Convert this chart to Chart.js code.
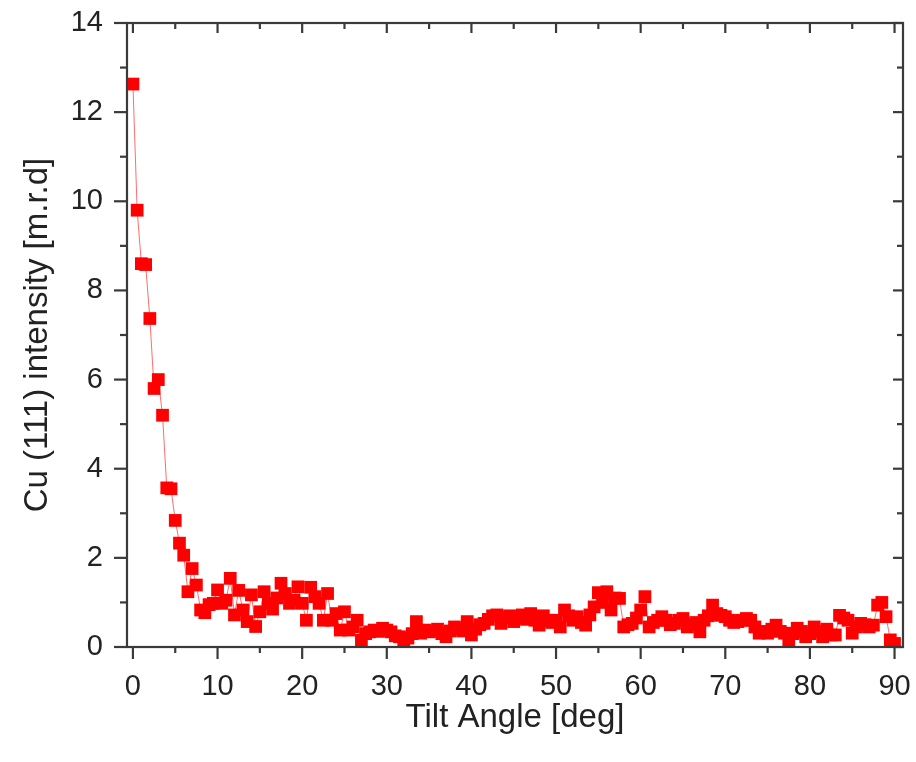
<!DOCTYPE html>
<html>
<head>
<meta charset="utf-8">
<script src="https://cdn.jsdelivr.net/npm/chart.js@4.4.1/dist/chart.umd.min.js"></script>
<style>
  html, body { margin: 0; padding: 0; background: #fff; }
  #wrap { width: 916px; height: 762px; }
</style>
</head>
<body>
<div id="wrap"><canvas id="my-chart" width="916" height="762"></canvas></div>
<script>
// tilt angles (deg) and Cu (111) intensity (m.r.d)
const tiltAngles = [
  0, 0.5, 1, 1.5, 2, 2.5, 3, 3.5, 4, 4.5, 5, 5.5, 6, 6.5, 7, 7.5, 8, 8.5, 9, 9.5,
  10, 10.5, 11, 11.5, 12, 12.5, 13, 13.5, 14, 14.5, 15, 15.5, 16, 16.5, 17, 17.5, 18, 18.5, 19, 19.5,
  20, 20.5, 21, 21.5, 22, 22.5, 23, 23.5, 24, 24.5, 25, 25.5, 26, 26.5, 27, 27.5, 28, 28.5, 29, 29.5,
  30, 30.5, 31, 31.5, 32, 32.5, 33, 33.5, 34, 34.5, 35, 35.5, 36, 36.5, 37, 37.5, 38, 38.5, 39, 39.5,
  40, 40.5, 41, 41.5, 42, 42.5, 43, 43.5, 44, 44.5, 45, 45.5, 46, 46.5, 47, 47.5, 48, 48.5, 49, 49.5,
  50, 50.5, 51, 51.5, 52, 52.5, 53, 53.5, 54, 54.5, 55, 55.5, 56, 56.5, 57, 57.5, 58, 58.5, 59, 59.5,
  60, 60.5, 61, 61.5, 62, 62.5, 63, 63.5, 64, 64.5, 65, 65.5, 66, 66.5, 67, 67.5, 68, 68.5, 69, 69.5,
  70, 70.5, 71, 71.5, 72, 72.5, 73, 73.5, 74, 74.5, 75, 75.5, 76, 76.5, 77, 77.5, 78, 78.5, 79, 79.5,
  80, 80.5, 81, 81.5, 82, 82.5, 83, 83.5, 84, 84.5, 85, 85.5, 86, 86.5, 87, 87.5, 88, 88.5, 89, 89.5,
  90
];
const cuIntensity = [
  12.63, 9.8, 8.6, 8.58, 7.37, 5.8, 6.0, 5.2, 3.57, 3.55, 2.84, 2.33, 2.06, 1.24, 1.76, 1.39, 0.83, 0.77, 0.95, 0.98,
  1.28, 0.98, 1.05, 1.54, 0.72, 1.27, 0.83, 0.57, 1.17, 0.46, 0.79, 1.24, 0.98, 0.85, 1.1, 1.43, 1.2, 0.98, 1.05, 1.35,
  0.98, 0.6, 1.34, 1.13, 0.98, 0.6, 1.2, 0.6, 0.75, 0.38, 0.79, 0.38, 0.45, 0.6, 0.15, 0.3, 0.34, 0.38, 0.35, 0.42,
  0.38, 0.34, 0.25, 0.23, 0.12, 0.2, 0.3, 0.57, 0.31, 0.38, 0.34, 0.36, 0.4, 0.3, 0.23, 0.36, 0.45, 0.4, 0.36, 0.57,
  0.27, 0.4, 0.5, 0.53, 0.62, 0.7, 0.72, 0.53, 0.66, 0.7, 0.57, 0.68, 0.72, 0.62, 0.75, 0.6, 0.49, 0.7, 0.6, 0.55,
  0.6, 0.45, 0.83, 0.7, 0.6, 0.68, 0.55, 0.49, 0.72, 0.9, 1.22, 1.0, 1.24, 0.83, 1.1, 1.09, 0.45, 0.5, 0.53, 0.65,
  0.83, 1.13, 0.45, 0.55, 0.6, 0.68, 0.6, 0.5, 0.53, 0.6, 0.64, 0.45, 0.5, 0.55, 0.34, 0.6, 0.7, 0.94, 0.75, 0.71,
  0.68, 0.6, 0.55, 0.57, 0.6, 0.64, 0.6, 0.45, 0.31, 0.35, 0.31, 0.4, 0.49, 0.35, 0.31, 0.16, 0.3, 0.42, 0.35, 0.23,
  0.3, 0.45, 0.35, 0.23, 0.4, 0.27, 0.27, 0.71, 0.65, 0.6, 0.31, 0.45, 0.53, 0.5, 0.45, 0.49, 0.94, 1.0, 0.68, 0.16,
  0.08
];
const xTickValues = [0, 10, 20, 30, 40, 50, 60, 70, 80, 90];
const xMinorValues = [5, 15, 25, 35, 45, 55, 65, 75, 85];
const yTickValues = [0, 2, 4, 6, 8, 10, 12, 14];
const yMinorValues = [1, 3, 5, 7, 9, 11, 13];

const axisColor = '#3a3a3a';
const textColor = '#222222';
const fontFamily = '"Liberation Sans", Arial, sans-serif';

// frame + ticks like Origin: left/bottom ticks outside, top/right inside
const frameTicks = {
  id: 'frameTicks',
  afterDraw(chart) {
    const { ctx, chartArea: a, scales: { x, y } } = chart;
    ctx.save();
    ctx.strokeStyle = axisColor;
    ctx.lineWidth = 2.2;
    ctx.strokeRect(a.left, a.top, a.right - a.left, a.bottom - a.top);
    const tick = (x1, y1, x2, y2) => {
      ctx.beginPath();
      ctx.moveTo(x1, y1);
      ctx.lineTo(x2, y2);
      ctx.stroke();
    };
    xTickValues.forEach(v => {
      const px = x.getPixelForValue(v);
      tick(px, a.bottom, px, a.bottom + 12);
      tick(px, a.top, px, a.top + 10);
    });
    xMinorValues.forEach(v => {
      const px = x.getPixelForValue(v);
      tick(px, a.bottom, px, a.bottom + 6);
      tick(px, a.top, px, a.top + 6);
    });
    yTickValues.forEach(v => {
      const py = y.getPixelForValue(v);
      tick(a.left - 13, py, a.left, py);
      tick(a.right - 10, py, a.right, py);
    });
    yMinorValues.forEach(v => {
      const py = y.getPixelForValue(v);
      tick(a.left - 7, py, a.left, py);
      tick(a.right - 6, py, a.right, py);
    });
    ctx.restore();
  }
};

const ctx = document.getElementById('my-chart').getContext('2d');
const chart = new Chart(ctx, {
  type: 'line',
  data: {
    datasets: [{
      label: 'Cu (111)',
      data: tiltAngles.map((a, i) => ({ x: a, y: cuIntensity[i] })),
      borderColor: 'rgba(255, 60, 60, 0.75)',
      borderWidth: 1,
      backgroundColor: '#ff0000',
      pointStyle: 'rect',
      pointRadius: 9,
      pointBorderWidth: 0,
      pointBackgroundColor: '#ff0000',
      tension: 0
    }]
  },
  options: {
    responsive: false,
    animation: false,
    layout: { padding: { top: 23, right: 13, left: 0, bottom: 0 } },
    plugins: { legend: { display: false }, tooltip: { enabled: false } },
    scales: {
      x: {
        type: 'linear',
        min: -0.7,
        max: 91,
        afterBuildTicks: s => { s.ticks = xTickValues.map(v => ({ value: v })); },
        afterFit: s => { s.height = 115; s.paddingLeft = 0; s.paddingRight = 0; },
        grid: { display: false, drawTicks: false },
        border: { display: false },
        ticks: { color: textColor, padding: 23, maxRotation: 0, font: { family: fontFamily, size: 29 } },
        title: {
          display: true,
          text: 'Tilt Angle [deg]',
          color: textColor,
          font: { family: fontFamily, size: 33 },
          padding: { top: 0, bottom: 24 }
        }
      },
      y: {
        type: 'linear',
        min: 0,
        max: 14,
        afterBuildTicks: s => { s.ticks = yTickValues.map(v => ({ value: v })); },
        afterFit: s => { s.width = 127; s.paddingTop = 0; s.paddingBottom = 0; },
        grid: { display: false, drawTicks: false },
        border: { display: false },
        ticks: { color: textColor, padding: 24, font: { family: fontFamily, size: 29 } },
        title: {
          display: true,
          text: 'Cu (111) intensity [m.r.d]',
          color: textColor,
          font: { family: fontFamily, size: 33 },
          padding: { top: 18, bottom: 0 }
        }
      }
    }
  },
  plugins: [frameTicks]
});
</script>
</body>
</html>
